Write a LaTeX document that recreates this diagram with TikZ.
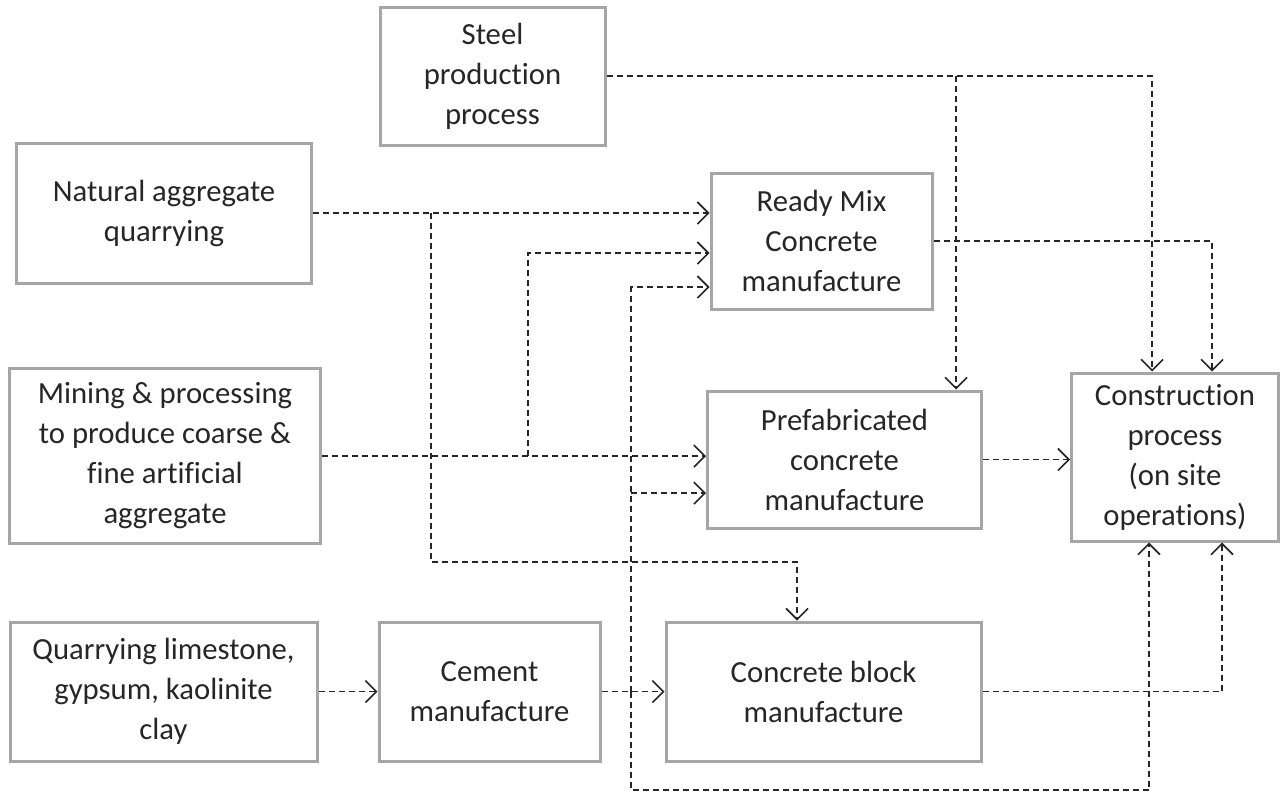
\documentclass[tikz,border=0pt]{standalone}
\usepackage{fontspec}
\setmainfont{Carlito}[Ligatures=NoCommon]
\usepackage{tikz}
\usetikzlibrary{arrows.meta, positioning, calc}
\definecolor{boxgray}{HTML}{A6A6A6}
\definecolor{linegray}{HTML}{262626}

\begin{document}
\begin{tikzpicture}[x=1pt, y=-1pt, every node/.style={font=\fontsize{30.7}{40}\selectfont, text=linegray}]
    	\tikzstyle{stage}=[draw=boxgray,line width=3pt,align=center,inner sep=0pt]
    	\tikzstyle{flow}=[draw=linegray,line width=1.4pt,dash pattern=on 6pt off 4pt,-{Straight Barb[length=11pt,width=22pt,line width=1.6pt]}]
    \useasboundingbox (0,0) rectangle (1280,793);
    \node[stage,minimum width=225pt,minimum height=138pt] (steel) at (492.5,76) {Steel\\production\\process};
    \node[stage,minimum width=295pt,minimum height=140pt] (nat) at (164,213) {Natural aggregate\\quarrying};
    \node[stage,minimum width=311pt,minimum height=175pt] (mine) at (165,456) {Mining \& processing\\to produce coarse \&\\fine artificial\\aggregate};
    \node[stage,minimum width=307pt,minimum height=139pt] (quarry) at (163.5,691.5) {Quarrying limestone,\\gypsum, kaolinite\\clay};
    \node[stage,minimum width=221pt,minimum height=139pt] (cement) at (489.5,691.5) {Cement\\manufacture};
    \node[stage,minimum width=221pt,minimum height=136pt] (ready) at (821.5,241) {Ready Mix\\Concrete\\manufacture};
    \node[stage,minimum width=274pt,minimum height=137pt] (prefab) at (844.5,459.5) {Prefabricated\\concrete\\manufacture};
    \node[stage,minimum width=315pt,minimum height=139pt] (block) at (823.5,691.5) {Concrete block\\manufacture};
    \node[stage,minimum width=207pt,minimum height=168pt] (constr) at (1175,457) {Construction\\process\\(on site\\operations)};
    \coordinate (natj) at (431,213);
    \coordinate (natb) at (797,562);
    \coordinate (minej) at (528,456);
    \coordinate (cemj) at (631,691.5);
    \coordinate (cemb) at (1149,790);
    \coordinate (steelj) at (956,76);
    \coordinate (prefin) at ($(prefab.west)+(0,33.5)$);
    \draw[flow] (quarry) -- (cement);
    \draw[flow] (cement) -- (block);
    \draw[flow] (nat.east) -- (ready.west |- nat.east);
    \draw[flow] (natj) |- (natb) -- (natb |- block.north);
    \draw[flow] (mine.east) -- (prefab.west |- mine.east);
    \draw[flow] (minej) |- ($(ready.west)+(0,12)$);
    \draw[flow] (cemj) |- ($(ready.west)+(0,46)$);
    \draw[flow] (cemj |- prefin) -- (prefin);
    \draw[flow] (cemj) |- (cemb) -- (cemb |- constr.south);
    \draw[flow] (steel.east) -| ($(constr.north)+(-23,0)$);
    \draw[flow] (steelj) -- (steelj |- prefab.north);
    \draw[flow] (ready.east) -| ($(constr.north)+(37,0)$);
    \draw[flow] (prefab.east) -- (constr.west |- prefab.east);
    \draw[flow] (block.east) -| ($(constr.south)+(47,0)$);
  \end{tikzpicture}
\end{document}
